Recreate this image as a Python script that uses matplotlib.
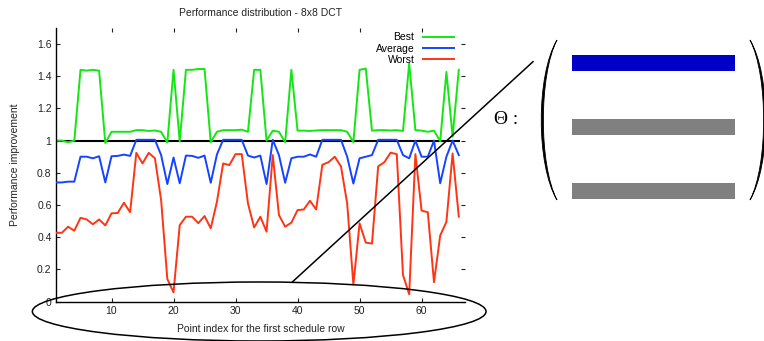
import matplotlib
matplotlib.use("Agg")
import matplotlib.pyplot as plt
from matplotlib.lines import Line2D
from matplotlib.patches import Ellipse, PathPatch
from matplotlib.path import Path
import numpy as np

# point index 1..66
best = [1.0, 1.0, 0.99, 1.0, 1.44, 1.435, 1.44, 1.435, 0.985, 1.055,
        1.055, 1.055, 1.055, 1.065, 1.065, 1.06, 1.063, 1.055, 0.988, 1.44,
        0.995, 1.44, 1.44, 1.445, 1.445, 0.99, 1.055, 1.065, 1.065, 1.065,
        1.068, 1.055, 1.44, 1.44, 1.0, 1.062, 1.055, 0.99, 1.44, 1.062,
        1.062, 1.06, 1.063, 1.065, 1.065, 1.065, 1.065, 1.055, 0.99, 1.44,
        1.448, 1.062, 1.065, 1.065, 1.063, 1.065, 1.06, 1.48, 1.065, 1.062,
        1.055, 1.062, 0.997, 1.427, 1.025, 1.44]
average = [0.74, 0.74, 0.745, 0.745, 0.9, 0.9, 0.89, 0.903, 0.74, 0.903,
           0.905, 0.913, 0.905, 1.005, 1.005, 1.005, 1.005, 0.91, 0.73, 0.895,
           0.735, 0.907, 0.905, 0.893, 0.907, 0.738, 0.914, 1.005, 1.005, 1.005,
           1.005, 0.907, 0.895, 0.907, 0.73, 1.005, 0.91, 0.738, 0.89, 0.9,
           0.9, 0.914, 0.9, 1.005, 1.005, 1.005, 1.005, 0.9, 0.733, 0.89,
           0.9, 0.91, 1.005, 1.005, 1.005, 1.005, 0.91, 0.89, 1.0, 0.9,
           0.9, 1.0, 0.735, 0.9, 1.0, 0.91]
worst = [0.427, 0.427, 0.465, 0.44, 0.52, 0.51, 0.48, 0.51, 0.473, 0.548,
         0.55, 0.614, 0.555, 0.924, 0.858, 0.924, 0.89, 0.63, 0.14, 0.057,
         0.475, 0.527, 0.527, 0.487, 0.531, 0.455, 0.62, 0.858, 0.848, 0.916,
         0.916, 0.61, 0.46, 0.527, 0.434, 0.91, 0.537, 0.465, 0.49, 0.568,
         0.572, 0.626, 0.572, 0.85, 0.866, 0.9, 0.84, 0.61, 0.105, 0.486,
         0.366, 0.36, 0.84, 0.866, 0.925, 0.916, 0.165, 0.045, 0.916, 0.565,
         0.555, 0.12, 0.41, 0.495, 0.92, 0.527]
x = np.arange(1, len(best) + 1)
baseline = [1.0] * len(best)

xticks = [10, 20, 30, 40, 50, 60]
yticks = [0, 0.2, 0.4, 0.6, 0.8, 1.0, 1.2, 1.4, 1.6]
ytick_labels = ["0", "0.2", "0.4", "0.6", "0.8", "1", "1.2", "1.4", "1.6"]

# rows of the schedule matrix drawn on the right
row_colors = ["#0000c8", "#808080", "#808080"]

W, H = 764, 341
plt.rcParams["font.family"] = ["Liberation Sans", "DejaVu Sans"]


def fx(px):
    return px / W


def fy(py):
    return 1 - py / H


fig = plt.figure(figsize=(W / 100, H / 100), dpi=100)
ax = fig.add_axes([fx(55.7), fy(301.5), fx(465) - fx(55.7), fy(28) - fy(301.5)])

lw = 1.4
ax.plot(x, baseline, color="black", lw=1.5, zorder=1)
ax.plot(x, best, color="#14e614", lw=lw, label="Best", zorder=2)
ax.plot(x, average, color="#1444ff", lw=lw, label="Average", zorder=3)
ax.plot(x, worst, color="#ff3414", lw=lw, label="Worst", zorder=4)

ax.set_xlim(1, 67)
ax.set_ylim(0, 1.7)
ax.set_xticks(xticks)
ax.set_yticks(yticks)
ax.set_yticklabels(ytick_labels)
ax.tick_params(direction="in", top=True, right=True, length=3, width=0.8,
               labelsize=7.5, pad=3, colors="#222222")
for s in ["top", "right"]:
    ax.spines[s].set_visible(False)
for s in ["left", "bottom"]:
    ax.spines[s].set_linewidth(1.0)

ax.set_title("Performance distribution - 8x8 DCT", fontsize=7.5, pad=9, color="#222222")
ax.set_xlabel("Point index for the first schedule row", fontsize=7.5, labelpad=6, color="#222222")
ax.set_ylabel("Performance improvement", fontsize=7.5, labelpad=12, color="#222222")

ax.legend(loc="upper right", bbox_to_anchor=(fx(454), fy(32.5)), bbox_transform=fig.transFigure,
          frameon=False, markerfirst=False, fontsize=7.5, handlelength=3.0,
          handletextpad=0.8, labelspacing=0.1, borderpad=0, borderaxespad=0)

# zoom ellipse around the x axis and the line out to the matrix
fig.add_artist(Ellipse((fx(259.2), fy(311.5)), fx(486) - fx(32.3), (59.0 / H),
                       transform=fig.transFigure, fill=False, ec="black", lw=1.1))
fig.add_artist(Line2D([fx(292.3), fx(533)], [fy(282), fy(61.7)],
                      transform=fig.transFigure, color="black", lw=1.1))

fig.text(fx(494), fy(119), "\u0398 :", fontsize=14, family=["Liberation Serif", "DejaVu Serif"],
         va="center", ha="left")

# big parentheses, drawn as thin crescents
for x0, xo, xi in [(557, 536, 538.8), (750, 771, 768.2)]:
    verts = [(fx(x0), fy(40)), (fx(xo), fy(75)), (fx(xo), fy(165)), (fx(x0), fy(200)),
             (fx(xi), fy(165)), (fx(xi), fy(75)), (fx(x0), fy(40)), (fx(x0), fy(40))]
    codes = [Path.MOVETO, Path.CURVE4, Path.CURVE4, Path.CURVE4,
             Path.CURVE4, Path.CURVE4, Path.CURVE4, Path.CLOSEPOLY]
    fig.add_artist(PathPatch(Path(verts, codes), transform=fig.transFigure,
                             fc="black", ec="black", lw=0.6))

bx = fig.add_axes([fx(572), fy(198.7), fx(735) - fx(572), fy(55) - fy(198.7)])
rows = np.arange(len(row_colors))
bh = 15.7 / 64
bx.barh(rows, [1] * len(rows), height=bh, color=row_colors)
bx.set_xlim(0, 1)
bx.set_ylim(rows[-1] + bh / 2, -bh / 2)
bx.axis("off")

fig.savefig("out.png", dpi=100)
